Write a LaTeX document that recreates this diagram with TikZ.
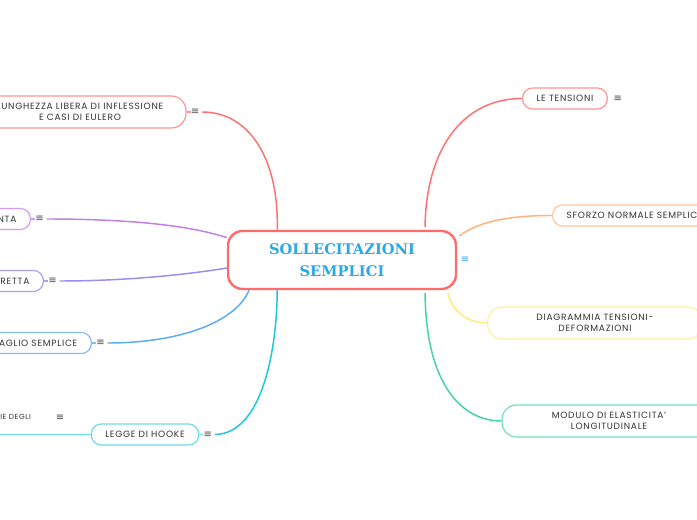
\documentclass[tikz,border=0pt]{standalone}
\usepackage{fontspec}
\setmainfont{Poppins}[LetterSpace=8]
\newfontfamily\rootfont{DejaVu Serif}
\newfontfamily\iconfont{DejaVu Sans}
\usetikzlibrary{positioning,calc,backgrounds}
\definecolor{rootred}{HTML}{FF6B6B}
\definecolor{rootblue}{HTML}{2BA8E6}
\definecolor{redline}{HTML}{FF7070}
\definecolor{redbox}{HTML}{FF9595}
\definecolor{ntaline}{HTML}{BF80E8}
\definecolor{ntabox}{HTML}{D29CF0}
\definecolor{rettaline}{HTML}{9A8CF2}
\definecolor{rettabox}{HTML}{ABA0F5}
\definecolor{taglioline}{HTML}{5AAAF0}
\definecolor{tagliobox}{HTML}{85BDF5}
\definecolor{hookeline}{HTML}{1CC8D6}
\definecolor{hookebox}{HTML}{6EDCE6}
\definecolor{sforzoline}{HTML}{FFB27E}
\definecolor{sforzobox}{HTML}{FFC7A0}
\definecolor{diagline}{HTML}{FFEC78}
\definecolor{diagbox}{HTML}{FFF0A0}
\definecolor{moduloline}{HTML}{3ED6A2}
\definecolor{modulobox}{HTML}{70E2BC}

\begin{document}
\begin{tikzpicture}[x=0.75pt,y=-0.75pt,font=\fontsize{6.8}{8}\selectfont,
    topic/.style={draw,fill=white,line width=0.9pt,rounded corners=7.5pt,minimum height=15.75pt,
      inner xsep=10.5pt,inner ysep=2pt,align=center,text=black!80},
    twoline/.style={topic,minimum height=24pt,rounded corners=11pt},
    menu/.style={font=\iconfont\fontsize{7.5}{7.5}\selectfont,inner sep=0pt,text=black!70},
    branch/.style={line width=1.1pt,shorten <=2pt},
    stub/.style={line width=0.9pt}]
    \useasboundingbox (0,0) rectangle (697,520);
    \clip (0,0) rectangle (697,520);

    \node[draw=rootred,fill=white,line width=1.8pt,rounded corners=11pt,minimum width=171pt,
      minimum height=43.5pt,align=center,font=\rootfont\bfseries\fontsize{11}{16}\selectfont,
      text=rootblue] (root) at (342,260) {SOLLECITAZIONI\\SEMPLICI};
    \node[menu,text=rootblue] (root-m) at (465,260) {≡};

    % left branches
    \node[twoline,draw=redbox,minimum width=159pt] (eulero) at (80,112)
      {LUNGHEZZA LIBERA DI INFLESSIONE\\E CASI DI EULERO};
    \node[topic,draw=ntabox,anchor=east] (nta) at (31,219) {NTA};
    \node[topic,draw=rettabox,anchor=east] (retta) at (44,281) {RETTA};
    \node[topic,draw=tagliobox,anchor=east] (taglio) at (92,343) {TAGLIO SEMPLICE};
    \node[topic,draw=hookebox,minimum width=79.5pt] (hooke) at (145,434.5) {LEGGE DI HOOKE};
    \node[anchor=west,inner sep=0pt,font=\fontsize{5.5}{6}\selectfont,text=black!80] (degli) at (0,417) {IE DEGLI};
    \foreach \n in {eulero,nta,retta,taglio,hooke}
      \node[menu,right=3pt of \n] (\n-m) {≡};
    \node[menu] (degli-m) at (60,418) {≡};

    % right branches
    \node[topic,draw=redbox,anchor=west] (tensioni) at (522,98.5) {LE TENSIONI};
    \node[menu,right=4pt of tensioni] (tensioni-m) {≡};
    \node[topic,draw=sforzobox,anchor=west] (sforzo) at (552,215.5) {SFORZO NORMALE SEMPLICE};
    \node[twoline,draw=diagbox,minimum width=161pt] (diagramma) at (595,323)
      {DIAGRAMMIA TENSIONI-\\DEFORMAZIONI};
    \node[twoline,draw=modulobox,minimum width=160.5pt] (modulo) at (609,421)
      {MODULO DI ELASTICITA'\\LONGITUDINALE};

    \begin{scope}[on background layer]
      \fill[white] (0,0) rectangle (697,520);
      \draw[branch,redline] (eulero-m.east) .. controls (250,112) and (279,160) .. (root.155);
      \draw[branch,ntaline] (nta-m.east) .. controls (120,219) and (185,224) .. (root.169);
      \draw[branch,rettaline] (retta-m.east) .. controls (130,281) and (190,274) .. (root.184);
      \draw[branch,taglioline] (taglio-m.east) .. controls (180,343) and (236,322) .. (root.198);
      \draw[branch,hookeline] (hooke-m.east) .. controls (262,434) and (277,350) .. (root.205);
      \draw[branch,redline] (root.20) .. controls (426,150) and (462,98.5) .. (tensioni.west);
      \draw[branch,sforzoline] (root.11) .. controls (480,220) and (515,215.5) .. (sforzo.west);
      \draw[branch,diagline] (root.344) .. controls (452,312) and (468,323) .. (diagramma.west);
      \draw[branch,moduloline] (root.340) .. controls (426,385) and (462,421) .. (modulo.west);
      \draw[stub,redbox] (eulero.east) -- (eulero-m.west);
      \draw[stub,ntabox] (nta.east) -- (nta-m.west);
      \draw[stub,rettabox] (retta.east) -- (retta-m.west);
      \draw[stub,tagliobox] (taglio.east) -- (taglio-m.west);
      \draw[stub,hookebox] (hooke.east) -- (hooke-m.west);
      \draw[line width=1.1pt,hookebox] (hooke.west) -- (hooke.west -| degli.west);
    \end{scope}
\end{tikzpicture}
\end{document}
